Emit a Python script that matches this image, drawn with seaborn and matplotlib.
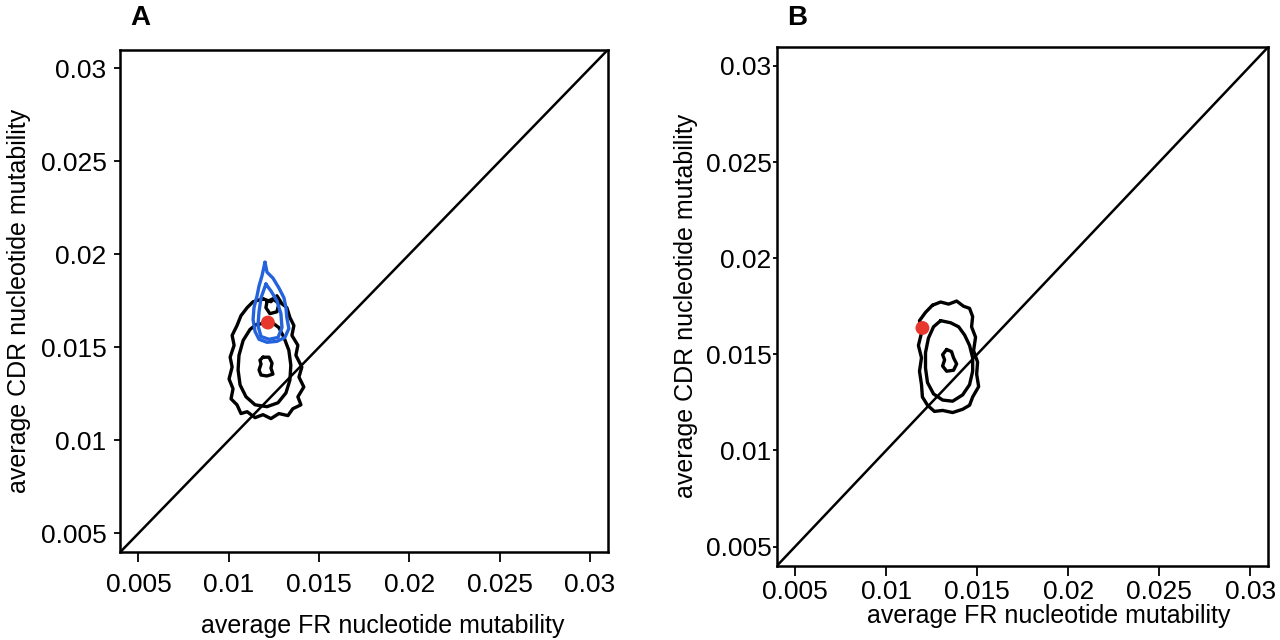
import numpy as np
import pandas as pd
import matplotlib
matplotlib.use("Agg")
import matplotlib.pyplot as plt
import seaborn as sns

# axis setup shared by both panels
lims = [0.004, 0.031]
ticks = [0.005, 0.01, 0.015, 0.02, 0.025, 0.03]
tick_labels = ["0.005", "0.01", "0.015", "0.02", "0.025", "0.03"]
diag = [0.004, 0.031]

# panel A: contours (FR, CDR)
a_outer_x = [.01190, .01234, .01267, .01295, .01322, .01339, .01361, .01350, .01383, .01372, .01405, .01389,
             .01416, .01383, .01400, .01355, .01328, .01278, .01234, .01190, .01146, .01102, .01068, .01046,
             .01013, .01024, .01002, .01019, .01008, .01030, .01019, .01046, .01068, .01102, .01135]
a_outer_y = [.01761, .01745, .01777, .01734, .01713, .01660, .01617, .01564, .01511, .01457, .01394, .01340,
             .01287, .01234, .01191, .01170, .01133, .01144, .01117, .01138, .01122, .01154, .01144, .01191,
             .01223, .01277, .01330, .01394, .01447, .01511, .01564, .01617, .01670, .01713, .01745]
a_inner_x = [.01190, .01234, .01278, .01306, .01333, .01344, .01339, .01317, .01273, .01212, .01146, .01096,
             .01063, .01052, .01057, .01080, .01118, .01151]
a_inner_y = [.01628, .01638, .01606, .01553, .01484, .01404, .01324, .01255, .01202, .01181, .01191, .01234,
             .01298, .01378, .01457, .01537, .01596, .01622]
a_core_x = [.01190, .01223, .01240, .01234, .01245, .01212, .01179, .01168, .01179, .01173]
a_core_y = [.01447, .01447, .01415, .01388, .01356, .01346, .01351, .01378, .01410, .01431]
a_blob_x = [.01212, .01245, .01278, .01267, .01228, .01206]
a_blob_y = [.01745, .01761, .01734, .01691, .01681, .01713]
a_blue_outer_x = [.01201, .01212, .01245, .01278, .01306, .01317, .01322, .01333, .01311, .01267, .01212, .01168,
                  .01146, .01135, .01140, .01157, .01168, .01184]
a_blue_outer_y = [.01957, .01904, .01872, .01819, .01766, .01713, .01660, .01601, .01553, .01532, .01527, .01543,
                  .01585, .01649, .01713, .01777, .01830, .01883]
a_blue_inner_x = [.01206, .01234, .01267, .01289, .01295, .01273, .01223, .01179, .01162, .01168, .01179]
a_blue_inner_y = [.01840, .01803, .01750, .01681, .01606, .01553, .01543, .01558, .01617, .01691, .01766]
a_obs = (0.01217, 0.01633)

# panel B
b_outer_x = [.01254, .01299, .01343, .01387, .01425, .01458, .01475, .01469, .01491, .01480, .01502, .01497,
             .01508, .01475, .01458, .01420, .01365, .01310, .01265, .01227, .01199, .01194, .01183, .01194,
             .01177, .01194, .01183, .01216]
b_outer_y = [.01755, .01772, .01761, .01777, .01750, .01739, .01696, .01643, .01589, .01519, .01460, .01396,
             .01332, .01278, .01235, .01214, .01197, .01208, .01203, .01235, .01278, .01342, .01412, .01482,
             .01546, .01611, .01675, .01718]
b_inner_x = [.01299, .01354, .01398, .01431, .01458, .01475, .01475, .01458, .01420, .01365, .01310, .01260,
             .01227, .01216, .01216, .01232, .01260]
b_inner_y = [.01675, .01664, .01643, .01600, .01546, .01482, .01412, .01342, .01289, .01256, .01262, .01294,
             .01353, .01428, .01509, .01584, .01643]
b_core_x = [.01332, .01359, .01370, .01387, .01370, .01332, .01310, .01321, .01310]
b_core_y = [.01525, .01514, .01482, .01450, .01417, .01412, .01439, .01471, .01498]
b_obs = (0.01199, 0.01637)

sns.set_style("ticks")
plt.rcParams['font.family'] = ['Liberation Sans', 'DejaVu Sans']
plt.rcParams['text.color'] = 'black'

fig = plt.figure(figsize=(12.8, 6.4), dpi=100)
axA = fig.add_axes([0.094, 0.1375, 0.381, 0.785])
axB = fig.add_axes([0.607, 0.116, 0.384, 0.811])


def ring(ax, xs, ys, color):
    df = pd.DataFrame({"x": list(xs) + [xs[0]], "y": list(ys) + [ys[0]]})
    sns.lineplot(data=df, x="x", y="y", sort=False, estimator=None, color=color, lw=2.4, ax=ax, legend=False)


def style(ax, xlen, xtpad, ylen, ytpad, xpad, ypad, xpos):
    sns.lineplot(x=diag, y=diag, color="black", lw=1.8, ax=ax, legend=False)
    ax.set_xlim(lims)
    ax.set_ylim(lims)
    ax.set_xticks(ticks)
    ax.set_xticklabels(tick_labels)
    ax.set_yticks(ticks)
    ax.set_yticklabels(tick_labels)
    ax.tick_params(direction="out", width=1.3, labelsize=19, colors="black", labelcolor="black")
    ax.tick_params(axis="x", length=xlen, pad=xtpad)
    ax.tick_params(axis="y", length=ylen, pad=ytpad)
    for s in ax.spines.values():
        s.set_linewidth(1.8)
        s.set_color("black")
    ax.set_xlabel("average FR nucleotide mutability", fontsize=18, labelpad=xpad, color="black", x=xpos)
    ax.set_ylabel("average CDR nucleotide mutability", fontsize=18, labelpad=ypad, color="black")


blue = "#2463dc"
ring(axA, a_outer_x, a_outer_y, "black")
ring(axA, a_inner_x, a_inner_y, "black")
ring(axA, a_core_x, a_core_y, "black")
ring(axA, a_blob_x, a_blob_y, "black")
ring(axA, a_blue_outer_x, a_blue_outer_y, blue)
ring(axA, a_blue_inner_x, a_blue_inner_y, blue)
sns.scatterplot(x=[a_obs[0]], y=[a_obs[1]], color="#e8372c", s=100, edgecolor="none", zorder=5, ax=axA)
style(axA, 7, 8, 4, 6, 12.5, 7, 0.537)

ring(axB, b_outer_x, b_outer_y, "black")
ring(axB, b_inner_x, b_inner_y, "black")
ring(axB, b_core_x, b_core_y, "black")
sns.scatterplot(x=[b_obs[0]], y=[b_obs[1]], color="#e8372c", s=100, edgecolor="none", zorder=5, ax=axB)
style(axB, 7, 3.5, 3, 1, 0, 5.5, 0.553)

fig.text(140 / 1280, 1 - 18 / 640, "A", fontsize=20, fontweight="bold", va="center", ha="center")
fig.text(797 / 1280, 1 - 18 / 640, "B", fontsize=20, fontweight="bold", va="center", ha="center")

fig.savefig("out.png", dpi=100)
